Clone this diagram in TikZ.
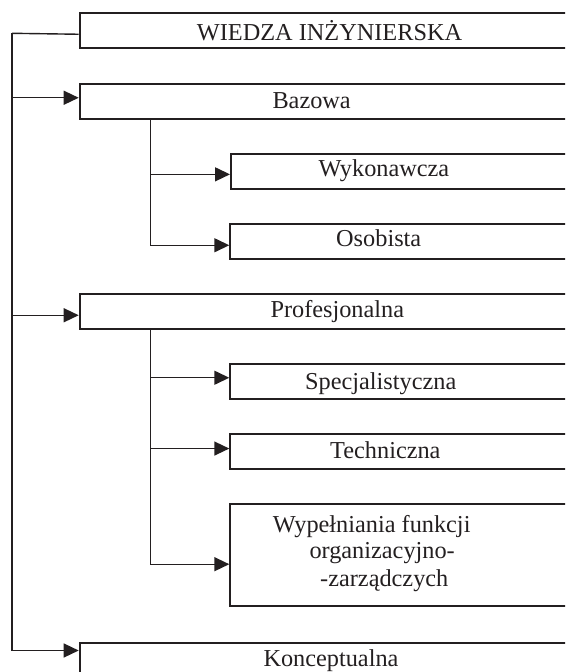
\documentclass[tikz,border=0pt]{standalone}
\usepackage{fontspec}
\setmainfont{Liberation Serif}
\usetikzlibrary{arrows.meta}
\definecolor{ink}{RGB}{35,31,32}
\newcommand{\ramka}[4]{
	\pgfmathsetmacro{\szer}{600-#2} % box runs on past the right edge
	\node[pole, minimum width=\szer pt, minimum height=#4 pt] (#1) at (#2,#3) {};
}
\tikzset{
	pole/.style={draw=ink, line width=2.1pt, anchor=north west, inner sep=0pt},
	opis/.style={anchor=base west, inner sep=0pt, text=ink, font=\fontsize{24.3pt}{27pt}\selectfont},
	linia/.style={draw=ink, line width=1.4pt},
	strz/.style={linia, -{Triangle[length=15pt,width=14pt]}}
}

\begin{document}
\begin{tikzpicture}[x=1pt,y=-1pt]
	\useasboundingbox (0,0) rectangle (565,672);
	\clip (0,0) rectangle (565,672);
	% boxes: name, left, top, height
	\ramka{top}{78.7}{11.7}{35}
	\ramka{baz}{78.7}{82.7}{35}
	\ramka{wyk}{230}{153.3}{35}
	\ramka{oso}{229.3}{222.7}{35}
	\ramka{pro}{78.7}{292.7}{35}
	\ramka{spe}{229.3}{362.7}{35}
	\ramka{tec}{229.3}{432.7}{35.6}
	\ramka{wyp}{229.3}{503.3}{101.7}
	\ramka{kon}{78.7}{641.5}{35}
	
	% texts, put at their baselines
	\node[opis] (tTop) at (196.7,40) {WIEDZA INŻYNIERSKA};
	\node[opis] (tBaz) at (272.3,108) {Bazowa};
	\node[opis] (tWyk) at (318.3,176.7) {Wykonawcza};
	\node[opis] (tOso) at (336,246.7) {Osobista};
	\node[opis] (tPro) at (270.3,317.3) {Profesjonalna};
	\node[opis] (tSpe) at (305,389.3) {Specjalistyczna};
	\node[opis] (tTec) at (330,458.3) {Techniczna};
	\foreach[count=\i] \t/\x/\y in {Wypełniania funkcji/272.7/532.3, organizacyjno-/309.3/558.3, -zarządczych/320/586.7}
		\node[opis] (tWyp\i) at (\x,\y) {\t};
	\node[opis] (tKon) at (263.3,666) {Konceptualna};
	
	% left spine
	\coordinate (sp) at (12,33.3);
	\draw[linia] ([yshift=-4pt]top.west) -- (sp);
	\draw[strz] (sp) |- ([yshift=3.5pt]baz.west);
	\draw[strz] (sp) |- ([yshift=-4pt]pro.west);
	\draw[strz] (sp) |- ([yshift=-9pt]kon.north west);
	
	% branches under Bazowa and Profesjonalna
	\coordinate (bz) at ([xshift=72pt]baz.south west);
	\coordinate (pr) at ([xshift=72pt]pro.south west);
	\foreach \n/\s in {wyk/-2.5, oso/-4}
		\draw[strz] (bz) |- ([yshift=\s pt]\n.west);
	\foreach \n/\s in {spe/3.5, tec/3, wyp/-9}
		\draw[strz] (pr) |- ([yshift=\s pt]\n.west);
\end{tikzpicture}
\end{document}
